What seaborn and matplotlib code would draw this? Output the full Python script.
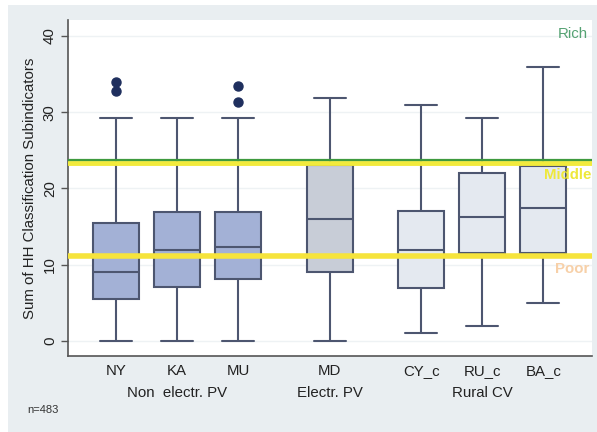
import numpy as np
import pandas as pd
import matplotlib
matplotlib.use("Agg")
import matplotlib.pyplot as plt
import seaborn as sns
from matplotlib.patches import Rectangle

# Five-number summaries of the HH classification score per village
villages = ["NY", "KA", "MU", "MD", "CY_c", "RU_c", "BA_c"]
groups = ["Non  electr. PV", "Non  electr. PV", "Non  electr. PV",
          "Electr. PV", "Rural CV", "Rural CV", "Rural CV"]
positions = [0, 1, 2, 3.5, 5, 6, 7]
lower_whisker = [0, 0, 0, 0, 1, 2, 5]
q1 = [5.5, 7.1, 8.1, 9.0, 6.9, 11.5, 11.5]
median = [9.0, 11.9, 12.3, 16.0, 11.9, 16.3, 17.4]
q3 = [15.4, 16.9, 16.9, 23.1, 17.0, 22.0, 23.0]
upper_whisker = [29.3, 29.3, 29.3, 31.9, 30.9, 29.3, 35.9]
outliers = [[33.9, 32.8], [], [33.5, 31.4], [], [], [], []]

# Class thresholds
rich_cut = 23.7
middle_cut = 23.35
poor_cut = 11.1
n_total = 483

group_colors = {"Non  electr. PV": "#9badde",
                "Electr. PV": "#c6ccd9",
                "Rural CV": "#e2e8f2"}


def summary_sample(lo, a, m, b, hi, extra):
    # n = 4s+1 points so that the quartiles fall exactly on a, m, b
    s = len(extra) + 1
    return [lo] + [a] * s + [m] * s + [b] * s + [hi] + sorted(extra)


rows = []
for i, v in enumerate(villages):
    vals = summary_sample(lower_whisker[i], q1[i], median[i], q3[i],
                          upper_whisker[i], outliers[i])
    for val in vals:
        rows.append({"pos": positions[i], "score": val, "group": groups[i]})
df = pd.DataFrame(rows)

sns.set_style("white")
plt.rcParams["font.family"] = ["Liberation Sans", "DejaVu Sans"]
fs = 10.8

fig = plt.figure(figsize=(5.97, 4.32), dpi=100, facecolor="#e9eef1")
fig.patches.append(Rectangle((0, 0), 8 / 597, 1, transform=fig.transFigure,
                             facecolor="white", edgecolor="none", zorder=-1))
fig.patches.append(Rectangle((0, 1 - 5 / 432), 1, 5 / 432, transform=fig.transFigure,
                             facecolor="white", edgecolor="none", zorder=-1))
ax = fig.add_axes([68 / 597, 1 - 356 / 432, (592 - 68) / 597, (356 - 20) / 432])
ax.set_facecolor("white")

line_col = "#4d5670"
sns.boxplot(data=df, x="pos", y="score", hue="group", native_scale=True,
            dodge=False, palette=group_colors, width=0.75, linecolor=line_col,
            linewidth=1.5, legend=False, ax=ax, capwidths=0.52,
            flierprops=dict(marker="o", markersize=6.5, markerfacecolor="#1f2f5e",
                            markeredgecolor="#1f2f5e"))

# Class threshold lines
ax.axhline(poor_cut, color="#f6e43c", lw=4, zorder=5)
ax.axhline(middle_cut, color="#f2ea3c", lw=3.5, zorder=5)
ax.axhline(rich_cut, color="#3f9a3f", lw=1.6, zorder=6)
ax.text(0.992, 40.3, "Rich", color="#55a273", ha="right", va="center",
        fontsize=fs, transform=ax.get_yaxis_transform())
ax.text(0.998, 21.8, "Middle", color="#eee83a", ha="right", va="center",
        fontsize=fs, fontweight="bold", transform=ax.get_yaxis_transform())
ax.text(0.995, 9.4, "Poor", color="#f7d0a8", ha="right", va="center",
        fontsize=fs, fontweight="bold", transform=ax.get_yaxis_transform())

ax.set_xlim(-0.79, 7.8)
ax.set_ylim(-2, 42.1)
ax.set_yticks([0, 10, 20, 30, 40])
ax.set_yticklabels(["0", "10", "20", "30", "40"], rotation=90, va="center",
                   fontsize=fs, color="#222222")
ax.set_xticks(positions)
ax.set_xticklabels(villages, fontsize=fs, color="#222222")
ax.tick_params(axis="x", length=0, pad=6)
ax.tick_params(axis="y", length=5, width=1, color="#555555", pad=3, left=True)
ax.grid(axis="y", color="#eef2f4", lw=1)
ax.set_axisbelow(True)
for side in ["top", "right"]:
    ax.spines[side].set_visible(False)
for side in ["left", "bottom"]:
    ax.spines[side].set_color("#555555")
    ax.spines[side].set_linewidth(1.2)

ax.set_xlabel("")
ax.set_ylabel("Sum of HH Classification Subindicators", fontsize=fs,
              color="#222222", labelpad=4)

# Group labels under the village ticks
group_label_pos = {"Non  electr. PV": 1, "Electr. PV": 3.5, "Rural CV": 6}
for name, x in group_label_pos.items():
    ax.text(x, -0.11, name, transform=ax.get_xaxis_transform(), ha="center",
            va="center", fontsize=fs, color="#222222")

fig.text(27 / 597, 1 - 410 / 432, f"n={n_total}", fontsize=8, color="#333333",
         va="center")

fig.savefig("out.png", dpi=100, facecolor=fig.get_facecolor())
